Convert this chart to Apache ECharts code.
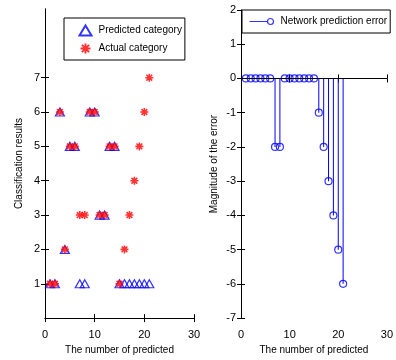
<!DOCTYPE html>
<html>
<head>
<meta charset="utf-8">
<script src="https://cdn.jsdelivr.net/npm/echarts@6/dist/echarts.min.js"></script>
<style>
  html, body { margin: 0; padding: 0; background: #fff; }
  #chart { width: 396px; height: 360px; }
</style>
</head>
<body>
<div id="chart"></div>
<script>
  // sample number (1..21)
  const samples = [1, 2, 3, 4, 5, 6, 7, 8, 9, 10, 11, 12, 13, 14, 15, 16, 17, 18, 19, 20, 21];
  const predicted = [1, 1, 6, 2, 5, 5, 1, 1, 6, 6, 3, 3, 5, 5, 1, 1, 1, 1, 1, 1, 1];
  const actual = [1, 1, 6, 2, 5, 5, 3, 3, 6, 6, 3, 3, 5, 5, 1, 2, 3, 4, 5, 6, 7];
  const errors = [0, 0, 0, 0, 0, 0, -2, -2, 0, 0, 0, 0, 0, 0, 0, -1, -2, -3, -4, -5, -6];
  const classTicks = [1, 2, 3, 4, 5, 6, 7];

  const font = "Arial, 'Liberation Sans', sans-serif";
  const blue = "#0000ff";
  const red = "#ff0000";
  const star = "path://M0,-5L0,5M-5,0L5,0M-3.6,-3.6L3.6,3.6M-3.6,3.6L3.6,-3.6";

  const pair = (xs, ys) => xs.map((x, i) => [x, ys[i]]);

  const axisLine = { lineStyle: { color: "#000", width: 1 } };
  const tick = { inside: true, length: 4, lineStyle: { color: "#000" } };
  const label = { color: "#000", fontFamily: font, fontSize: 11, margin: 5 };
  const nameStyle = { color: "#000", fontFamily: font, fontSize: 10 };

  function xAxes(grid) {
    return [
      {
        gridIndex: grid, type: "value", min: 0, max: 30, interval: 10,
        position: "bottom",
        name: "The number of predicted", nameLocation: "middle", nameGap: 26,
        nameTextStyle: nameStyle,
        axisLine: axisLine, axisTick: tick, axisLabel: { ...label, margin: 11 },
        splitLine: { show: false },
      },
      {
        gridIndex: grid, type: "value", min: 0, max: 30, interval: 10,
        position: "top",
        axisLine: axisLine, axisTick: tick, axisLabel: { show: false }, splitLine: { show: false },
      },
    ];
  }

  const chart = echarts.init(document.getElementById("chart"));
  chart.setOption({
    animation: false,
    backgroundColor: "#fff",
    grid: [
      { left: 45, right: 202, top: 9, bottom: 34 },
      { left: 241, right: 6, top: 10, bottom: 34 },
    ],
    legend: [
      {
        data: ["Predicted category", "Actual category"],
        orient: "vertical",
        left: 64, top: 18,
        padding: [5, 3, 4, 13],
        itemGap: 3, itemWidth: 12, itemHeight: 10,
        backgroundColor: "#fff", borderColor: "#000", borderWidth: 1, borderRadius: 0,
        textStyle: { color: "#000", fontFamily: font, fontSize: 10, padding: [0, 0, 0, 2] },
      },
      {
        data: ["Network prediction error"],
        left: 242, top: 10,
        padding: [6, 3, 6, 5],
        itemWidth: 24, itemHeight: 8,
        backgroundColor: "#fff", borderColor: "#000", borderWidth: 1, borderRadius: 0,
        icon: "path://M0,4L18,4M18,4A3,3 0 1,0 24,4A3,3 0 1,0 18,4",
        itemStyle: { color: "none", borderColor: blue, borderWidth: 1.2 },
        textStyle: { color: "#000", fontFamily: font, fontSize: 10, padding: [0, 0, 0, 2] },
      },
    ],
    xAxis: [...xAxes(0), ...xAxes(1)],
    yAxis: [
      {
        gridIndex: 0, type: "value", min: 0, max: 9,
        name: "Classification results", nameLocation: "middle", nameGap: 21,
        nameTextStyle: nameStyle,
        axisLine: axisLine,
        axisTick: { ...tick, customValues: classTicks },
        axisLabel: { ...label, customValues: classTicks },
        splitLine: { show: false },
      },
      {
        gridIndex: 0, type: "value", min: 0, max: 9, position: "right",
        axisLine: axisLine,
        axisTick: { ...tick, customValues: classTicks },
        axisLabel: { show: false }, splitLine: { show: false },
      },
      {
        gridIndex: 1, type: "value", min: -7, max: 2, interval: 1,
        name: "Magnitude of the error", nameLocation: "middle", nameGap: 22,
        nameTextStyle: nameStyle,
        axisLine: axisLine, axisTick: tick, axisLabel: label, splitLine: { show: false },
      },
      {
        gridIndex: 1, type: "value", min: -7, max: 2, interval: 1, position: "right",
        axisLine: axisLine, axisTick: tick, axisLabel: { show: false }, splitLine: { show: false },
      },
    ],
    series: [
      {
        name: "Predicted category", type: "scatter", xAxisIndex: 0, yAxisIndex: 0,
        data: pair(samples, predicted),
        symbol: "triangle", symbolSize: [9, 8],
        itemStyle: { color: "none", borderColor: blue, borderWidth: 1.2 },
      },
      {
        name: "Actual category", type: "scatter", xAxisIndex: 0, yAxisIndex: 0,
        data: pair(samples, actual),
        symbol: star, symbolSize: 8,
        itemStyle: { color: "none", borderColor: red, borderWidth: 1.6 },
      },
      {
        name: "stems", type: "bar", xAxisIndex: 2, yAxisIndex: 2,
        data: pair(samples, errors),
        barWidth: 1,
        itemStyle: { color: blue },
        markLine: {
          silent: true, symbol: ["none", "none"],
          label: { show: false },
          lineStyle: { color: "#000", width: 1, type: "solid" },
          data: [{ yAxis: 0 }],
        },
      },
      {
        name: "Network prediction error", type: "scatter", xAxisIndex: 2, yAxisIndex: 2,
        data: pair(samples, errors),
        symbol: "circle", symbolSize: 7,
        itemStyle: { color: "none", borderColor: blue, borderWidth: 1.2 },
      },
    ],
  });
</script>
</body>
</html>
